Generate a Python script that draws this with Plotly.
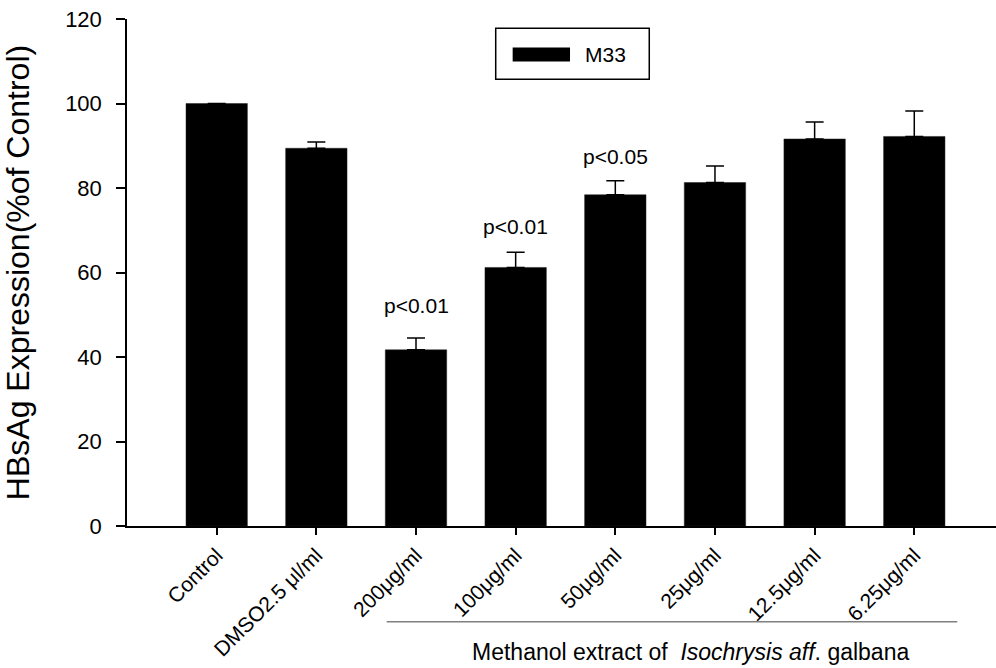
import plotly.graph_objects as go

categories = ["Control", "DMSO2.5 μl/ml", "200μg/ml", "100μg/ml", "50μg/ml",
              "25μg/ml", "12.5μg/ml", "6.25μg/ml"]
values = [100.0, 89.4, 41.7, 61.2, 78.4, 81.3, 91.6, 92.2]
errors = [0.0, 1.5, 2.8, 3.6, 3.3, 3.9, 4.0, 6.0]
series_name = "M33"
p_labels = {2: ("p<0.01", 52.3), 3: ("p<0.01", 70.8), 4: ("p<0.05", 87.4)}
y_ticks = [0, 20, 40, 60, 80, 100, 120]
y_title = "HBsAg Expression(%of Control)"
group_label = "Methanol extract of  <i>Isochrysis aff</i>. galbana"

FONT = "Arial, Liberation Sans, sans-serif"
x_idx = list(range(len(categories)))

fig = go.Figure()
fig.add_trace(go.Bar(
    x=x_idx, y=values, name=series_name, width=0.616,
    marker=dict(color="black", line=dict(color="#222", width=0.5)),
    error_y=dict(type="data", array=errors, arrayminus=[0] * len(errors),
                 symmetric=False, color="black", thickness=1.5, width=9),
    showlegend=False,
))

for i, (txt, yv) in p_labels.items():
    fig.add_annotation(x=i, y=yv, text=txt, showarrow=False, xref="x", yref="y",
                       font=dict(family=FONT, size=21, color="black"),
                       xanchor="center", yanchor="middle")

# custom legend box
fig.add_shape(type="rect", xref="paper", yref="paper", x0=0.4243, x1=0.601,
              y0=0.881, y1=0.9817, line=dict(color="black", width=1.5),
              fillcolor="white")
fig.add_shape(type="rect", xref="paper", yref="paper", x0=0.4438, x1=0.5098,
              y0=0.916, y1=0.944, line=dict(width=0), fillcolor="black")
fig.add_annotation(xref="paper", yref="paper", x=0.525, y=0.930, text=series_name,
                   showarrow=False, xanchor="left", yanchor="middle",
                   font=dict(family=FONT, size=21, color="black"))

# group bracket and label
fig.add_shape(type="line", xref="paper", yref="paper", x0=0.2988, x1=0.9554,
              y0=-0.1888, y1=-0.1888, line=dict(color="#808080", width=1.5))
fig.add_annotation(xref="paper", yref="paper", x=0.648, y=-0.248, text=group_label,
                   showarrow=False, xanchor="center", yanchor="middle",
                   font=dict(family=FONT, size=23, color="black"))

fig.update_layout(
    width=996, height=668,
    margin=dict(l=127, r=0, t=19, b=142),
    plot_bgcolor="white", paper_bgcolor="white",
    font=dict(family=FONT, color="black"),
    bargap=0.384,
)
fig.update_xaxes(
    tickmode="array", tickvals=x_idx, ticktext=categories, tickangle=-45,
    range=[-0.9, 7.82], showline=True, linecolor="black", linewidth=1.5,
    ticks="outside", ticklen=7, tickwidth=1.5, tickcolor="black",
    showgrid=False, zeroline=False, tickfont=dict(family=FONT, size=21),
    automargin=False,
)
fig.update_yaxes(
    range=[0, 120], tickvals=y_ticks, showline=True, linecolor="black", linewidth=1.5,
    ticks="outside", ticklen=9, tickwidth=1.5, tickcolor="black",
    showgrid=False, zeroline=False, tickfont=dict(family=FONT, size=22),
    ticklabelstandoff=10,
    title=dict(text=y_title, font=dict(family=FONT, size=32), standoff=26),
    automargin=False,
)

fig.write_html("out.html")
